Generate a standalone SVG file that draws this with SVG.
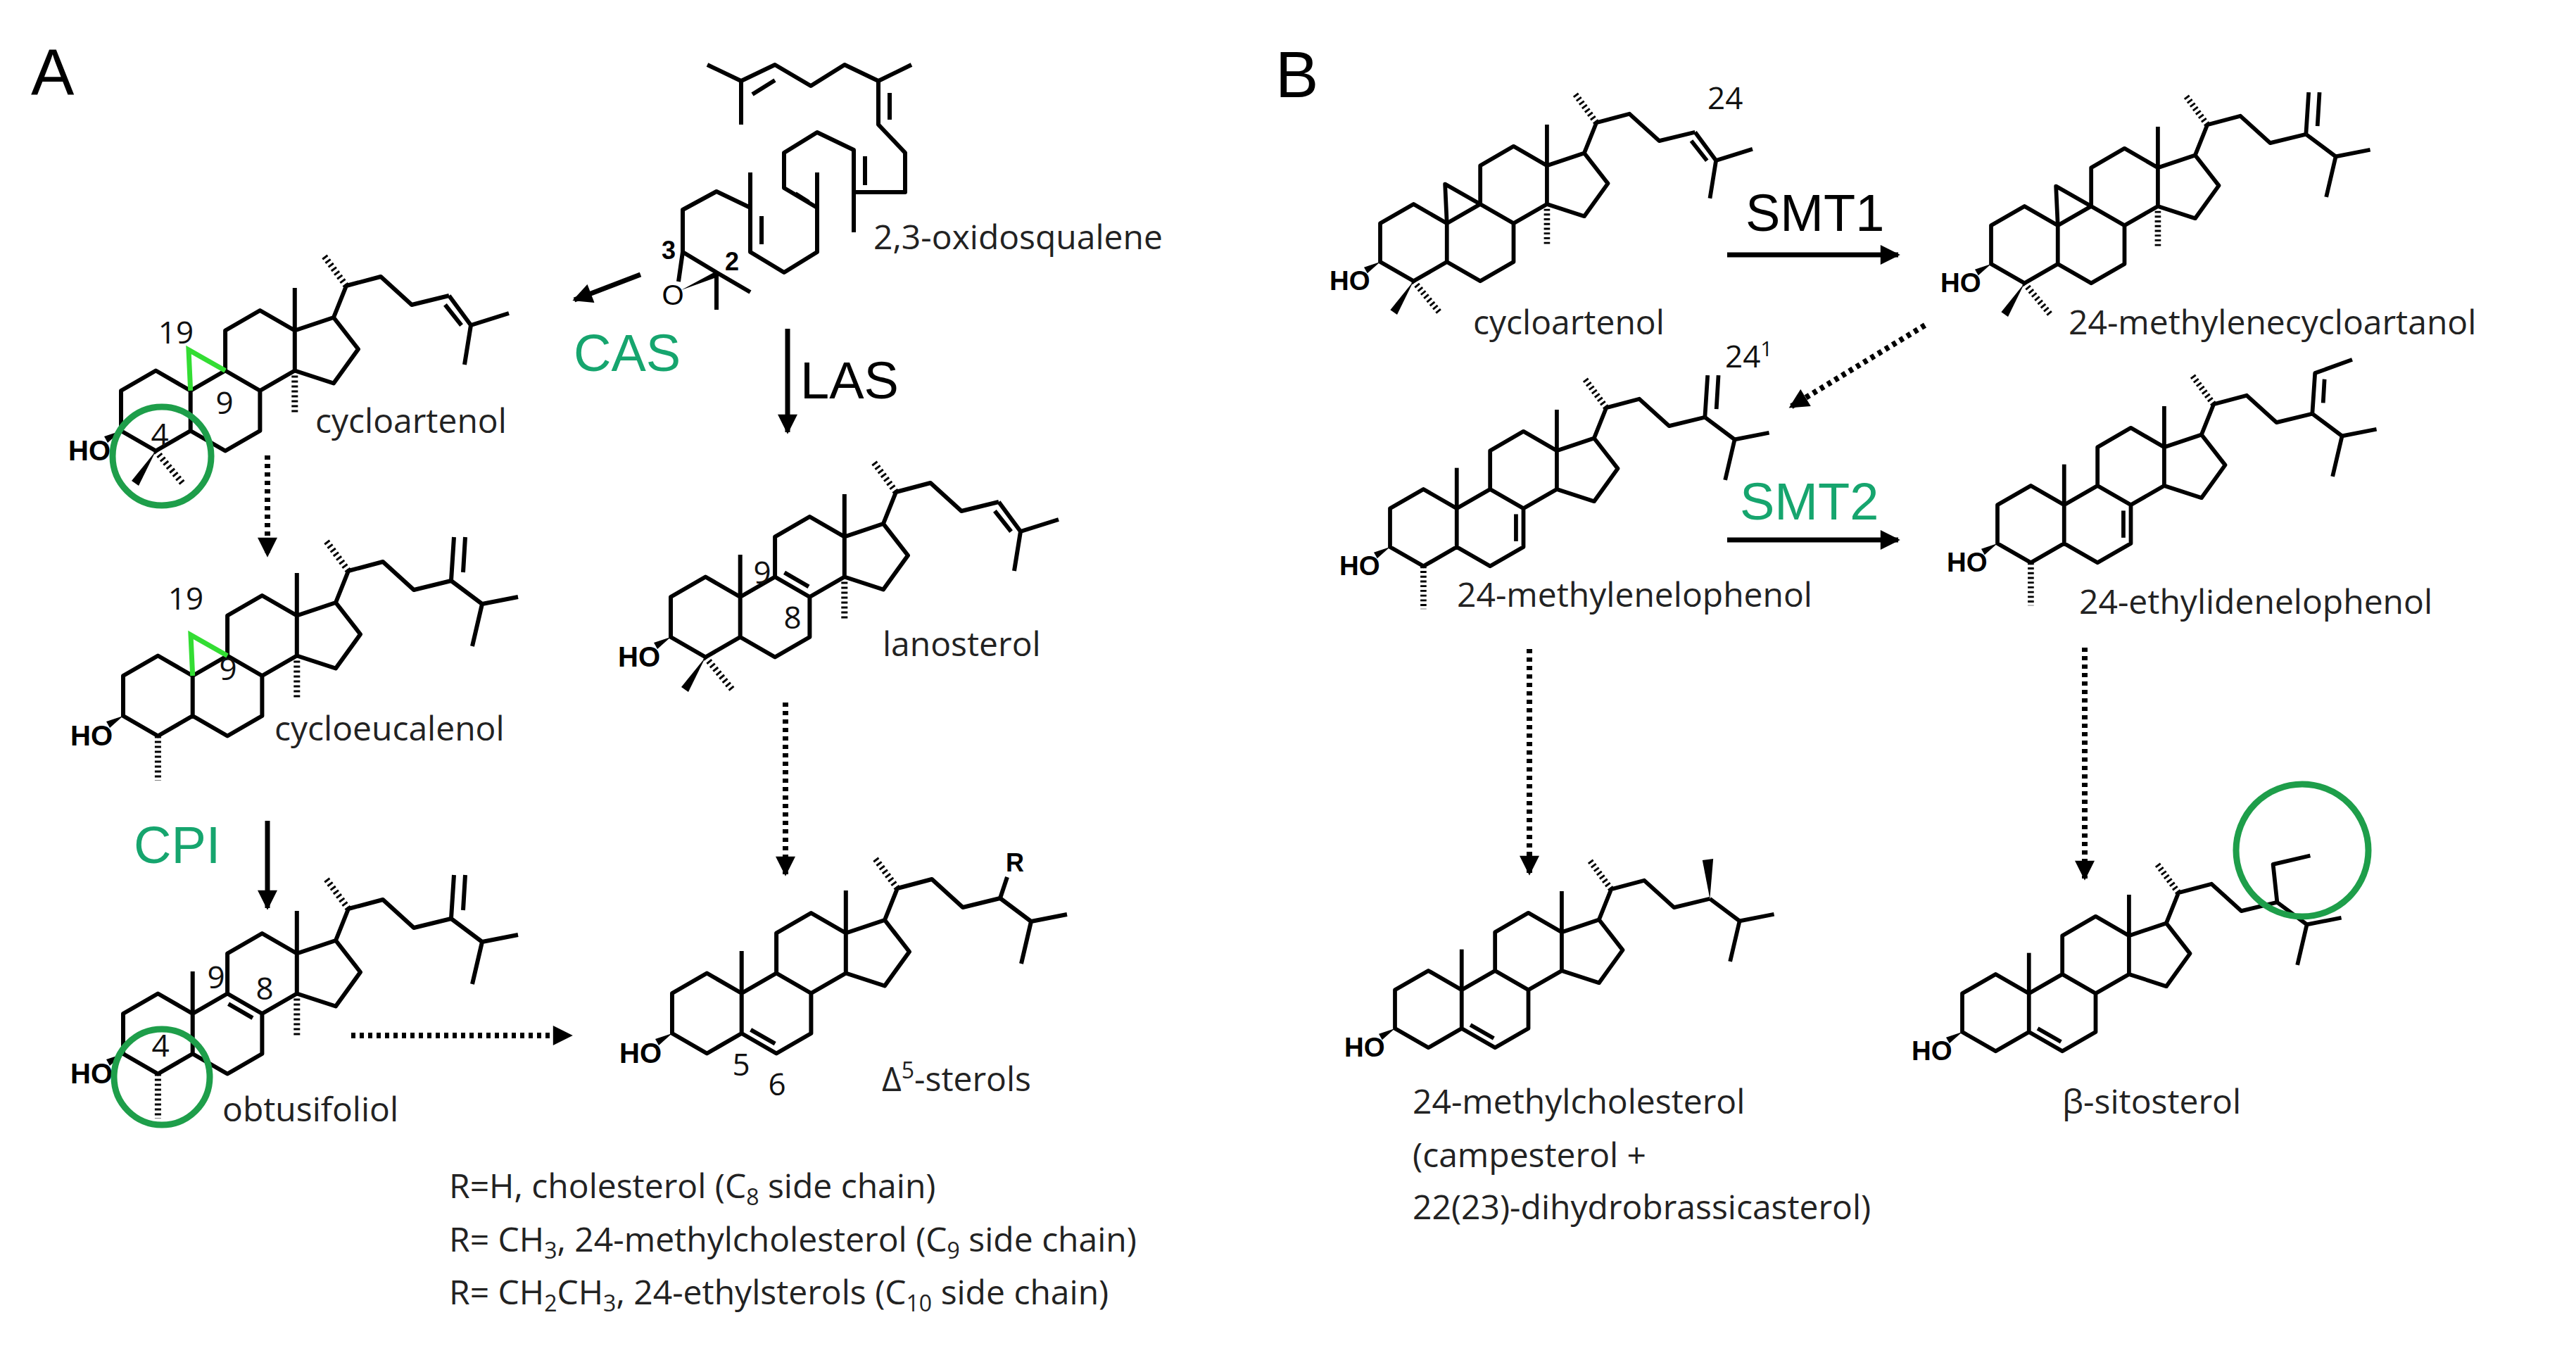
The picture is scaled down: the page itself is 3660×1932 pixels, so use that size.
<svg xmlns="http://www.w3.org/2000/svg" xmlns:xlink="http://www.w3.org/1999/xlink" width="3660" height="1932" viewBox="0 0 3660 1932">
<style>
.b{fill:none;stroke:#000;stroke-width:6;stroke-linejoin:round;stroke-linecap:butt}
.h{fill:none;stroke:#000;stroke-width:9;stroke-dasharray:3 4}
.g{fill:none;stroke:#33dd33;stroke-width:7;stroke-linejoin:miter}
.gc{fill:none;stroke:#1e9e4a;stroke-width:9}
.w{fill:#000;stroke:none}
.lbl{font-family:"Open Sans","Liberation Sans",sans-serif;font-size:48px;fill:#222}
.num{font-family:"Open Sans","Liberation Sans",sans-serif;font-size:44px;fill:#111}
.ho{font-family:"Liberation Sans",Arial,sans-serif;font-size:40px;font-weight:bold;fill:#000}
.enz{font-family:"Liberation Sans",Arial,sans-serif;font-size:74px;fill:#000}
.grn{fill:#16a56e}
.pan{font-family:"Liberation Sans",Arial,sans-serif;font-size:92px;fill:#000}
.dot{fill:none;stroke:#000;stroke-width:8;stroke-dasharray:6 6}
.arr{fill:none;stroke:#000;stroke-width:7}
</style>
<defs>
<marker id="ah" markerUnits="userSpaceOnUse" markerWidth="30" markerHeight="28" viewBox="0 0 10 10" refX="9" refY="5" orient="auto"><path d="M0,0 L10,5 L0,10 z" fill="#000"/></marker>
<g id="core">
<path class="b" d="M0,0 V-57 L49.4,-85.5 L98.7,-57 V0 L49.4,28.5 Z M98.7,0 L148.1,28.5 L197.4,0 V-57 L148.1,-85.5 L98.7,-57 M148.1,-85.5 V-142.5 L197.4,-171 L246.8,-142.5 V-85.5 L197.4,-57 M246.8,-142.5 L302,-161 L337,-116 L302,-67.5 L246.8,-85.5 M246.8,-142.5 V-203 M302,-161 L320,-206 L369,-219 L413,-179 L466,-192"/>
<line class="h" x1="320" y1="-206" x2="288" y2="-249"/>
<polygon class="w" points="0,0 -24,8 -19,17"/>
<text class="ho" x="-15" y="42" text-anchor="end">HO</text>
</g>
<path id="c19" class="b" d="M98.7,-57 V-117"/>
<path id="sat" class="b" d="M466,-192 L510,-159 L561,-169 M510,-159 L496,-99"/>
<path id="d24" class="b" d="M466,-192 L497,-150 L551,-167 M497,-150 L488,-94 M460.4,-179.2 L483.6,-149.8"/>
<path id="meth" class="b" d="M466,-192 L470,-254 M483,-204 L486,-254 M466,-192 L510,-159 L561,-169 M510,-159 L496,-99"/>
<path id="ethy" class="b" d="M466,-192 L470,-252 L525,-272 M482,-208 L484,-243 M466,-192 L510,-159 L561,-169 M510,-159 L496,-99"/>
<path id="sito" class="b" d="M466,-192 L460,-248 L515,-261 M466,-192 L510,-159 L561,-169 M510,-159 L496,-99"/>
<g id="dm4"><polygon class="w" points="49.4,28.5 15,71 25,78"/><line class="h" x1="49.4" y1="28.5" x2="87" y2="74"/></g>
<line id="m4" class="h" x1="49.4" y1="28.5" x2="49.4" y2="92"/>
<line id="m14" class="h" x1="246.8" y1="-85.5" x2="246.8" y2="-25"/>
<path id="d5" class="b" d="M111.6,-5.2 L146.2,14.7"/>
<path id="d7" class="b" d="M186.4,-8.5 V-48.5"/>
</defs>

<!-- panel letters -->
<text class="pan" x="44" y="135">A</text>
<text class="pan" x="1812" y="138">B</text>

<!-- 2,3-oxidosqualene -->
<g id="oxidosqualene">
<path class="b" d="M1005,92 L1053,115 L1101,92 L1152,122 L1200,92 L1248,115 L1295,92 M1053,115 V177 M1069,134 L1101,114 M1248,115 V177 L1286,217 V273 H1213 V330 M1264,132 V170 M1213,273 V213 L1161,188 L1114,217 V267 L1161,295 V245 M1229,222 V263 M1130,275 L1149,287 M1161,295 V358 L1114,387 L1066,358 V295 V245 M1082,307 V347 M1066,295 L1018,272 L970,298 V358 L1018,387 L1066,415 M1018,387 V440 M970,358 L964,400"/>
<polygon class="w" points="968,412 1018,385 1021,393"/>
<text class="ho" x="956" y="433" text-anchor="middle" style="font-weight:normal">O</text>
<text class="ho" x="950" y="368" text-anchor="middle" style="font-size:36px">3</text>
<text class="ho" x="1040" y="384" text-anchor="middle" style="font-size:36px">2</text>
<text class="lbl" x="1241" y="354">2,3-oxidosqualene</text>
</g>

<!-- A: cycloartenol -->
<g id="cycloartenolA" transform="translate(172,612)">
<use href="#core"/><use href="#d24"/><use href="#dm4"/><use href="#m14"/>
<path class="g" d="M98.7,-57 L96,-115 L148.1,-85.5"/>
</g>
<circle class="gc" cx="230" cy="648" r="70"/>
<text class="num" x="250" y="488" text-anchor="middle">19</text>
<text class="num" x="319" y="588" text-anchor="middle">9</text>
<text class="num" x="227" y="633" text-anchor="middle">4</text>
<text class="lbl" x="448" y="615">cycloartenol</text>

<!-- A: cycloeucalenol -->
<g id="cycloeucalenol" transform="translate(175,1017)">
<use href="#core"/><use href="#meth"/><use href="#m4"/><use href="#m14"/>
<path class="g" d="M98.7,-57 L96,-115 L148.1,-85.5"/>
</g>
<text class="num" x="264" y="866" text-anchor="middle">19</text>
<text class="num" x="324" y="966" text-anchor="middle">9</text>
<text class="lbl" x="390" y="1052">cycloeucalenol</text>

<!-- A: obtusifoliol -->
<g id="obtusifoliol" transform="translate(175,1497)">
<use href="#core"/><use href="#c19"/><use href="#meth"/><use href="#m4"/><use href="#m14"/>
<path class="b" d="M149.5,-70.8 L184,-50.9"/>
</g>
<circle class="gc" cx="230" cy="1530" r="68"/>
<text class="num" x="307" y="1404" text-anchor="middle">9</text>
<text class="num" x="376" y="1420" text-anchor="middle">8</text>
<text class="num" x="228" y="1501" text-anchor="middle">4</text>
<text class="lbl" x="316" y="1593">obtusifoliol</text>

<!-- A: lanosterol -->
<g id="lanosterol" transform="translate(953,905)">
<use href="#core"/><use href="#c19"/><use href="#d24"/><use href="#dm4"/><use href="#m14"/>
<path class="b" d="M161.5,-91.6 L196,-71.7"/>
</g>
<text class="num" x="1083" y="829" text-anchor="middle">9</text>
<text class="num" x="1126" y="893" text-anchor="middle">8</text>
<text class="lbl" x="1254" y="932">lanosterol</text>

<!-- A: delta5 sterols -->
<g id="delta5" transform="translate(955,1468)">
<use href="#core"/><use href="#c19"/><use href="#sat"/><use href="#d5"/>
<path class="b" d="M466,-192 L476,-222"/>
<text class="ho" x="487" y="-230" text-anchor="middle" style="font-size:36px">R</text>
</g>
<text class="num" x="1053" y="1528" text-anchor="middle">5</text>
<text class="num" x="1104" y="1556" text-anchor="middle">6</text>
<text class="lbl" x="1253" y="1550">Δ<tspan dy="-18" font-size="32">5</tspan><tspan dy="18">-sterols</tspan></text>

<g id="legend" class="lbl">
<text x="638" y="1702">R=H, cholesterol (C<tspan dy="10" font-size="32">8</tspan><tspan dy="-10"> side chain)</tspan></text>
<text x="638" y="1778">R= CH<tspan dy="10" font-size="32">3</tspan><tspan dy="-10">, 24-methylcholesterol (C</tspan><tspan dy="10" font-size="32">9</tspan><tspan dy="-10"> side chain)</tspan></text>
<text x="638" y="1853">R= CH<tspan dy="10" font-size="32">2</tspan><tspan dy="-10">CH</tspan><tspan dy="10" font-size="32">3</tspan><tspan dy="-10">, 24-ethylsterols (C</tspan><tspan dy="10" font-size="32">10</tspan><tspan dy="-10"> side chain)</tspan></text>
</g>

<!-- B molecules -->
<g id="cycloartenolB" transform="translate(1961,372) scale(0.96)">
<use href="#core"/><use href="#d24"/><use href="#dm4"/><use href="#m14"/>
<path class="b" d="M98.7,-57 L96,-115 L148.1,-85.5"/>
</g>
<text class="num" x="2426" y="155">24</text>
<text class="lbl" x="2093" y="475">cycloartenol</text>

<g id="methylenecycloartanol" transform="translate(2829,375) scale(0.96)">
<use href="#core"/><use href="#meth"/><use href="#dm4"/><use href="#m14"/>
<path class="b" d="M98.7,-57 L96,-115 L148.1,-85.5"/>
</g>
<text class="lbl" x="2939" y="475">24-methylenecycloartanol</text>

<g id="methylenelophenol" transform="translate(1975,777) scale(0.96)">
<use href="#core"/><use href="#c19"/><use href="#meth"/><use href="#m4"/><use href="#d7"/>
</g>
<text class="num" x="2451" y="522">24<tspan dy="-16" font-size="30">1</tspan></text>
<text class="lbl" x="2070" y="862">24-methylenelophenol</text>

<g id="ethylidenelophenol" transform="translate(2838,772) scale(0.96)">
<use href="#core"/><use href="#c19"/><use href="#ethy"/><use href="#m4"/><use href="#d7"/>
</g>
<text class="lbl" x="2954" y="872">24-ethylidenelophenol</text>

<g id="methylcholesterol" transform="translate(1982,1461) scale(0.96)">
<use href="#core"/><use href="#c19"/><use href="#sat"/><use href="#d5"/>
<polygon class="w" points="466,-192 455,-249 471,-251"/>
</g>
<text class="lbl" x="2007" y="1582">24-methylcholesterol</text>
<text class="lbl" x="2007" y="1658">(campesterol +</text>
<text class="lbl" x="2007" y="1732">22(23)-dihydrobrassicasterol)</text>

<g id="sitosterol" transform="translate(2788,1466) scale(0.96)">
<use href="#core"/><use href="#c19"/><use href="#sito"/><use href="#d5"/>
</g>
<circle class="gc" cx="3271" cy="1208" r="94"/>
<text class="lbl" x="2930" y="1582">β-sitosterol</text>

<!-- enzyme labels -->
<text class="enz grn" x="815" y="527">CAS</text>
<text class="enz" x="1137" y="566">LAS</text>
<text class="enz grn" x="190" y="1226">CPI</text>
<text class="enz" x="2480" y="328">SMT1</text>
<text class="enz grn" x="2472" y="738">SMT2</text>

<!-- connectors -->
<g id="connectors">
<line class="arr" x1="910" y1="390" x2="816" y2="426" marker-end="url(#ah)"/>
<line class="arr" x1="1119" y1="467" x2="1119" y2="614" marker-end="url(#ah)"/>
<line class="arr" x1="380" y1="1166" x2="380" y2="1290" marker-end="url(#ah)"/>
<line class="arr" x1="2454" y1="362" x2="2697" y2="362" marker-end="url(#ah)"/>
<line class="arr" x1="2454" y1="767" x2="2697" y2="767" marker-end="url(#ah)"/>
<line class="dot" x1="380" y1="647" x2="380" y2="789" marker-end="url(#ah)"/>
<line class="dot" x1="499" y1="1471" x2="811" y2="1471" marker-end="url(#ah)"/>
<line class="dot" x1="1116" y1="998" x2="1116" y2="1242" marker-end="url(#ah)"/>
<line class="dot" x1="2735" y1="462" x2="2544" y2="578" marker-end="url(#ah)"/>
<line class="dot" x1="2173" y1="922" x2="2173" y2="1241" marker-end="url(#ah)"/>
<line class="dot" x1="2962" y1="920" x2="2962" y2="1248" marker-end="url(#ah)"/>
</g>
</svg>
